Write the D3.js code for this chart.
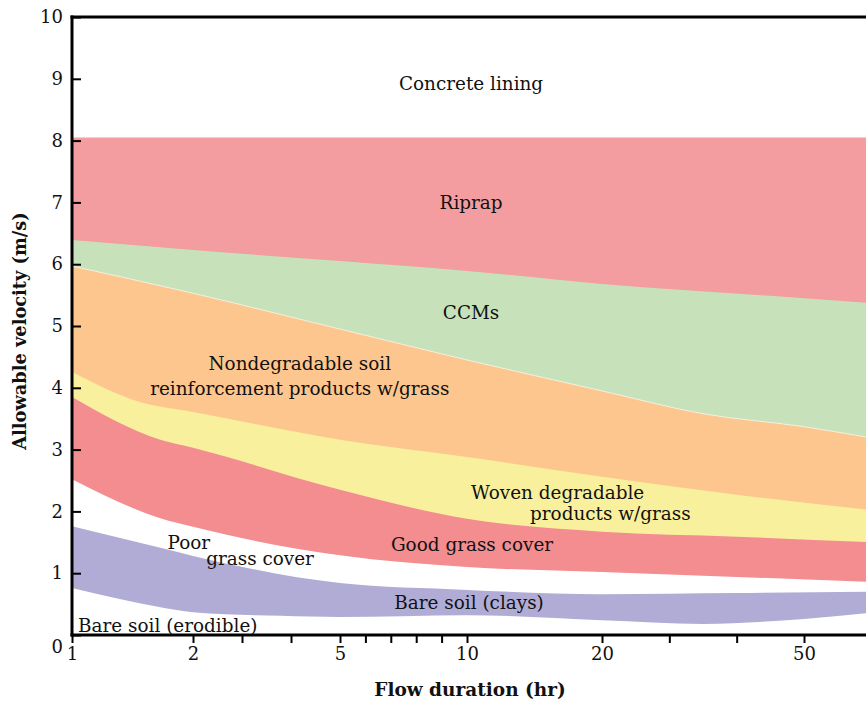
<!DOCTYPE html>
<html>
<head>
<meta charset="utf-8">
<script src="https://cdn.jsdelivr.net/npm/d3@7"></script>
<style>
  html, body { margin: 0; padding: 0; background: #fff; }
  svg { display: block; }
  text { font-family: "DejaVu Serif", serif; fill: #111; }
</style>
</head>
<body>
<svg id="chart" width="866" height="703"></svg>
<script>
// ---------- data ----------
const durTicks = [1, 2, 3, 4, 5, 6, 7, 8, 9, 10, 20, 30, 40, 50];
const durLabels = [1, 2, 5, 10, 20, 50];
const velTicks = [0, 1, 2, 3, 4, 5, 6, 7, 8, 9, 10];

// boundary curves (flow duration hr, allowable velocity m/s)
const riprapTopDur = [1, 60];
const riprapTopVel = [8.05, 8.05];
const ccmTopDur = [1, 2, 5, 10, 20, 50, 60];
const ccmTopVel = [6.39, 6.23, 6.05, 5.89, 5.68, 5.45, 5.37];
const nondegTopDur = [1, 2, 5, 10, 20, 35, 50, 60];
const nondegTopVel = [5.97, 5.53, 4.95, 4.45, 3.95, 3.58, 3.37, 3.19];
const wovenTopDur = [1, 1.56, 2, 5, 10, 20, 40, 60];
const wovenTopVel = [4.26, 3.77, 3.61, 3.16, 2.88, 2.56, 2.27, 2.02];
const goodTopDur = [1, 1.73, 2, 5, 10, 20, 40, 60];
const goodTopVel = [3.85, 3.16, 3.03, 2.35, 1.88, 1.67, 1.59, 1.50];
const poorTopDur = [1, 1.73, 2, 5, 10, 20, 40, 60];
const poorTopVel = [2.52, 1.89, 1.75, 1.29, 1.10, 1.02, 0.94, 0.86];
const claysTopDur = [1, 1.73, 2, 5, 10, 20, 40, 60];
const claysTopVel = [1.76, 1.41, 1.28, 0.84, 0.73, 0.66, 0.68, 0.70];
const erodTopDur = [1, 1.73, 2, 3.78, 5, 10, 20, 35, 50, 60];
const erodTopVel = [0.76, 0.45, 0.37, 0.31, 0.29, 0.32, 0.24, 0.18, 0.26, 0.36];

const bandNames = ["Riprap", "CCMs", "Nondegradable", "Woven", "Good grass", "Poor grass", "Bare clays", "Bare erodible"];
const bandColors = ["#f49da0", "#c7e2bb", "#fdc68f", "#f8f09c", "#f38d90", "#ffffff", "#b0acd6", "#ffffff"];

// annotations
const labelText = ["Concrete lining", "Riprap", "CCMs", "Nondegradable soil",
  "reinforcement products w/grass", "Woven degradable", "products w/grass",
  "Good grass cover", "Poor", "grass cover", "Bare soil (clays)", "Bare soil (erodible)"];
const labelDur = [10.3, 10.3, 10.3, 4.18, 4.18, 10.3, 14.67, 10.37, 1.79, 2.27, 10.15, 1.05];
const labelVel = [8.93, 7.0, 5.21, 4.40, 3.98, 2.31, 1.96, 1.47, 1.50, 1.23, 0.52, 0.16];
const labelAnchor = ["middle", "middle", "middle", "middle", "middle", "start", "start",
  "middle", "start", "start", "middle", "start"];

// ---------- layout ----------
const svg = d3.select("#chart");
const W = 866, H = 703;
const mLeft = 72, mBottom = 635, mTop = 17;

// piecewise-linear duration axis (as in the original figure)
const x = d3.scaleLinear()
  .domain([1, 2, 5, 10, 20, 50, 60])
  .range([mLeft, 193, 340, 467, 602, 804, 871]);
const y = d3.scaleLinear().domain([0, 10]).range([mBottom, mTop]);

const boundaries = [
  [riprapTopDur, riprapTopVel], [ccmTopDur, ccmTopVel], [nondegTopDur, nondegTopVel],
  [wovenTopDur, wovenTopVel], [goodTopDur, goodTopVel], [poorTopDur, poorTopVel],
  [claysTopDur, claysTopVel], [erodTopDur, erodTopVel]
];

const area = d3.area()
  .x(d => x(d[0]))
  .y0(y(0))
  .y1(d => y(d[1]))
  .curve(d3.curveMonotoneX);
const line = d3.line()
  .x(d => x(d[0]))
  .y(d => y(d[1]))
  .curve(d3.curveMonotoneX);

const bands = svg.append("g");
boundaries.forEach((b, i) => {
  const pts = b[0].map((d, j) => [d, b[1][j]]);
  bands.append("path")
    .attr("d", area(pts))
    .attr("fill", bandColors[i])
    .attr("data-name", bandNames[i]);
});
bands.append("path")
  .attr("d", line(nondegTopDur.map((d, j) => [d, nondegTopVel[j]])))
  .attr("fill", "none").attr("stroke", "#fff").attr("stroke-width", 0.8).attr("opacity", 0.8);

// ---------- labels ----------
const lab = svg.append("g").attr("font-size", 18.4);
labelText.forEach((t, i) => {
  lab.append("text")
    .attr("x", x(labelDur[i]))
    .attr("y", y(labelVel[i]))
    .attr("dy", "0.35em")
    .attr("text-anchor", labelAnchor[i])
    .text(t);
});

// ---------- axes ----------
const yAxis = d3.axisLeft(y).tickValues(velTicks).tickSize(-9).tickPadding(9).tickFormat(d3.format("d"));
const gy = svg.append("g").attr("transform", `translate(${mLeft},0)`).call(yAxis);
gy.select(".domain").remove();
gy.selectAll(".tick line").attr("stroke", "#000").attr("stroke-width", 2);
gy.selectAll(".tick text").attr("font-size", 18).attr("font-family", "DejaVu Serif").attr("fill", "#111");
gy.selectAll(".tick").filter(d => d === 0).select("text").attr("dy", "0.95em");

const xAxis = d3.axisBottom(x).tickValues(durTicks).tickSize(8).tickPadding(4)
  .tickFormat(d => durLabels.includes(d) ? d : "");
const gx = svg.append("g").attr("transform", `translate(0,${mBottom})`).call(xAxis);
gx.select(".domain").remove();
gx.selectAll(".tick line").attr("stroke", "#000").attr("stroke-width", 2);
gx.selectAll(".tick text").attr("font-size", 18).attr("font-family", "DejaVu Serif").attr("fill", "#111");

// frame lines
svg.append("line").attr("x1", mLeft).attr("x2", mLeft).attr("y1", mTop - 1.5).attr("y2", mBottom + 1.5)
  .attr("stroke", "#000").attr("stroke-width", 3);
svg.append("line").attr("x1", mLeft - 1.5).attr("x2", W).attr("y1", mBottom).attr("y2", mBottom)
  .attr("stroke", "#000").attr("stroke-width", 3);
svg.append("line").attr("x1", mLeft - 1.5).attr("x2", W).attr("y1", mTop).attr("y2", mTop)
  .attr("stroke", "#000").attr("stroke-width", 3);

// axis titles
svg.append("text")
  .attr("transform", `translate(20,${(mTop + mBottom) / 2 + 5}) rotate(-90)`)
  .attr("text-anchor", "middle").attr("dy", "0.35em")
  .attr("font-size", 17.8).attr("font-weight", "bold")
  .text("Allowable velocity (m/s)");
svg.append("text")
  .attr("x", 470).attr("y", 690).attr("dy", "0.35em")
  .attr("text-anchor", "middle")
  .attr("font-size", 18.5).attr("font-weight", "bold")
  .text("Flow duration (hr)");
</script>
</body>
</html>
